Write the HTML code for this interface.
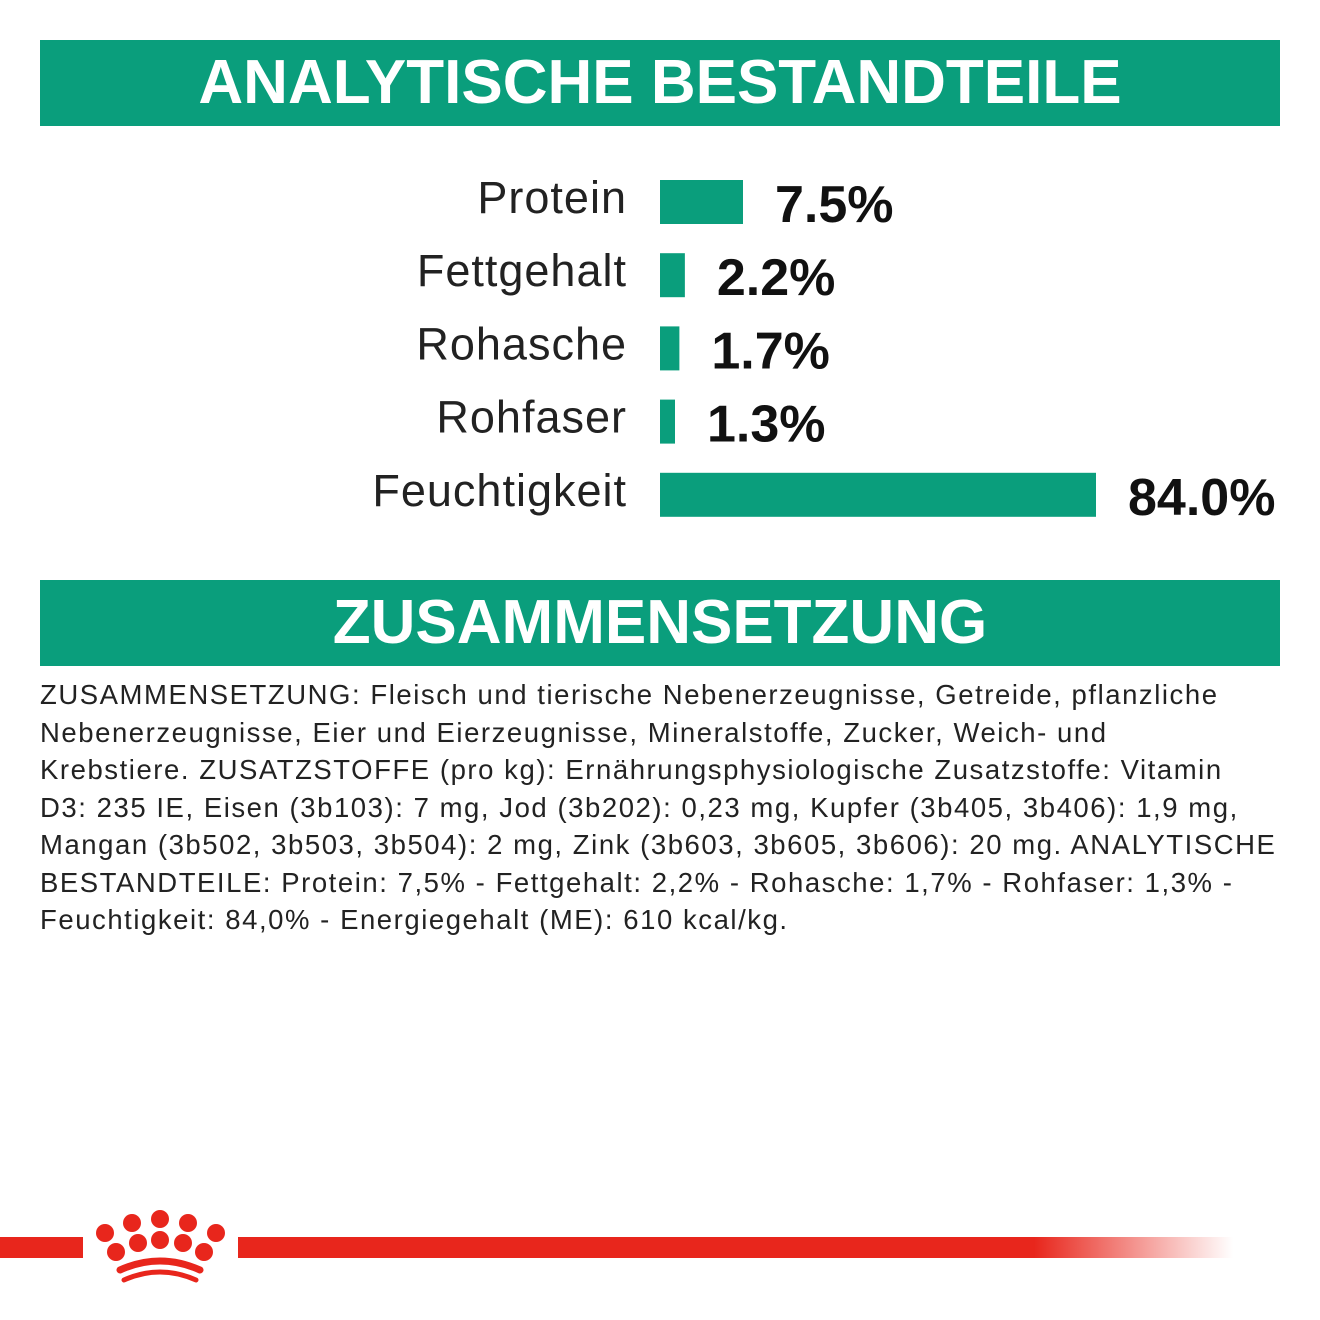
<!DOCTYPE html>
<html><head><meta charset="utf-8">
<style>
html,body{margin:0;padding:0;background:#fff;}
body{width:1320px;height:1320px;position:relative;overflow:hidden;font-family:"Liberation Sans",sans-serif;}
.banner{position:absolute;left:40px;width:1240px;height:86px;background:#0a9e7c;color:#fff;font-weight:bold;font-size:62px;text-align:center;line-height:86px;letter-spacing:0px;}
.para{position:absolute;left:40px;top:676px;width:1280px;font-size:27.5px;line-height:37.5px;color:#222;letter-spacing:1.55px;white-space:nowrap;}
</style></head>
<body>
<div class="banner" style="top:40px">ANALYTISCHE BESTANDTEILE</div>
<svg id="chart" width="1320" height="560" style="position:absolute;left:0;top:0"></svg>
<div class="banner" style="top:580px">ZUSAMMENSETZUNG</div>
<div class="para">ZUSAMMENSETZUNG: Fleisch und tierische Nebenerzeugnisse, Getreide, pflanzliche<br>Nebenerzeugnisse, Eier und Eierzeugnisse, Mineralstoffe, Zucker, Weich- und<br>Krebstiere. ZUSATZSTOFFE (pro kg): Ernährungsphysiologische Zusatzstoffe: Vitamin<br>D3: 235 IE, Eisen (3b103): 7 mg, Jod (3b202): 0,23 mg, Kupfer (3b405, 3b406): 1,9 mg,<br>Mangan (3b502, 3b503, 3b504): 2 mg, Zink (3b603, 3b605, 3b606): 20 mg. ANALYTISCHE<br>BESTANDTEILE: Protein: 7,5% - Fettgehalt: 2,2% - Rohasche: 1,7% - Rohfaser: 1,3% -<br>Feuchtigkeit: 84,0% - Energiegehalt (ME): 610 kcal/kg.</div>
<svg width="1320" height="100" style="position:absolute;left:0;top:1200px">
<defs><linearGradient id="fade" x1="0" x2="1"><stop offset="0" stop-color="#e8261c"/><stop offset="0.8" stop-color="#e8261c"/><stop offset="1" stop-color="#e8261c" stop-opacity="0"/></linearGradient></defs>
<rect x="0" y="37" width="83" height="21" fill="#e8261c"/>
<rect x="238" y="37" width="995" height="21" fill="url(#fade)"/>
<g fill="#e8261c">
<circle cx="105" cy="33" r="9"/><circle cx="132" cy="23" r="9"/><circle cx="160" cy="19" r="9"/><circle cx="188" cy="23" r="9"/><circle cx="216" cy="33" r="9"/>
<circle cx="116" cy="52" r="9"/><circle cx="138" cy="43" r="9"/><circle cx="160" cy="40" r="9"/><circle cx="183" cy="43" r="9"/><circle cx="204" cy="52" r="9"/>
</g>
<path d="M120 70 Q160 52 200 70" stroke="#e8261c" stroke-width="7" fill="none" stroke-linecap="round"/>
<path d="M124 80 Q160 64 196 80" stroke="#e8261c" stroke-width="5" fill="none" stroke-linecap="round"/>
</svg>
<script>
const categories=["Protein","Fettgehalt","Rohasche","Rohfaser","Feuchtigkeit"];
const values=[7.5,2.2,1.7,1.3,84.0];
const valueLabels=["7.5%","2.2%","1.7%","1.3%","84.0%"];
const domainKnots=[0,1.3,7.5,84];
const rangeKnots=[0,15,83,436];
function xScale(v){
  for(let i=1;i<domainKnots.length;i++){
    if(v<=domainKnots[i]||i===domainKnots.length-1){
      const d0=domainKnots[i-1],d1=domainKnots[i],r0=rangeKnots[i-1],r1=rangeKnots[i];
      return r0+(v-d0)/(d1-d0)*(r1-r0);
    }
  }
}
function yScale(i){return 180+i*73.2;}
const NS="http://www.w3.org/2000/svg";
const svg=document.getElementById('chart');
categories.forEach((c,i)=>{
  const y=yScale(i), w=xScale(values[i]);
  const lab=document.createElementNS(NS,'text');
  
  
  lab.setAttribute('x',627);lab.setAttribute('y',y+33);
  lab.setAttribute('text-anchor','end');
  lab.setAttribute('font-family','Liberation Sans, sans-serif');
  lab.setAttribute('font-size','45');lab.setAttribute('fill','#222');
  lab.setAttribute('letter-spacing','1');
  lab.textContent=c;svg.appendChild(lab);
  const r=document.createElementNS(NS,'rect');
  
  
  r.setAttribute('x',660);r.setAttribute('y',y);
  r.setAttribute('width',w);r.setAttribute('height',44);
  r.setAttribute('fill','#0a9e7c');svg.appendChild(r);
  const t=document.createElementNS(NS,'text');
  
  
  t.setAttribute('x',660+w+32);t.setAttribute('y',y+42);
  t.setAttribute('font-family','Liberation Sans, sans-serif');
  t.setAttribute('font-weight','bold');t.setAttribute('font-size','52');
  t.setAttribute('fill','#111');
  t.textContent=valueLabels[i];svg.appendChild(t);
});
</script>
</body></html>
